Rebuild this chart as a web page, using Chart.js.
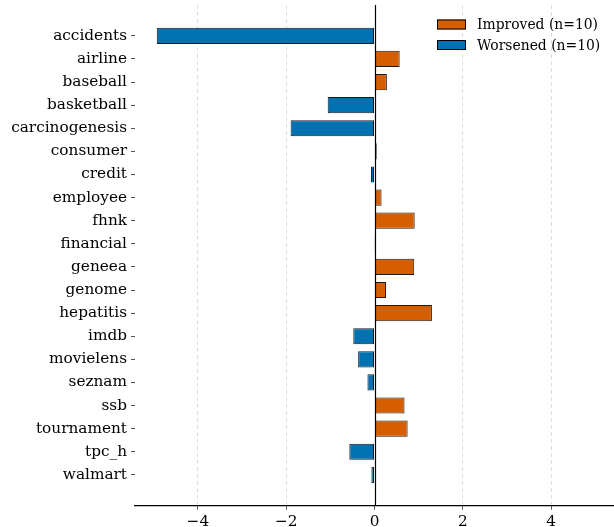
<!DOCTYPE html>
<html>
<head>
<meta charset="utf-8">
<script src="https://cdn.jsdelivr.net/npm/chart.js@4/dist/chart.umd.min.js"></script>
<style>
  html, body { margin: 0; padding: 0; background: #ffffff; }
  #wrap { width: 614px; height: 527px; position: relative; }
</style>
</head>
<body>
<div id="wrap"><canvas id="chart"></canvas></div>
<script>
// Dataset names, top to bottom
const categories = [
  'accidents', 'airline', 'baseball', 'basketball', 'carcinogenesis',
  'consumer', 'credit', 'employee', 'fhnk', 'financial',
  'geneea', 'genome', 'hepatitis', 'imdb', 'movielens',
  'seznam', 'ssb', 'tournament', 'tpc_h', 'walmart'
];

// Change per dataset (positive = improved, negative = worsened)
const changes = [
  -4.93, 0.57, 0.28, -1.06, -1.90,
  0.05, -0.08, 0.16, 0.91, -0.004,
  0.90, 0.26, 1.30, -0.48, -0.37,
  -0.16, 0.68, 0.75, -0.57, -0.07
];

const xTicks = [-4, -2, 0, 2, 4];

const seriesLabels = ['Improved (n=10)', 'Worsened (n=10)'];
const seriesColors = ['#D55E00', '#0072B2'];

const FONT = 'DejaVu Serif';
const TICK_SIZE = 15.3;
const LEGEND_SIZE = 13.9;

const N = categories.length;
// Row positions run bottom-up on the linear axis so the first name sits on top
const rowPos = (i) => N - 1 - i;

const improvedPoints = [];
const worsenedPoints = [];
changes.forEach((v, i) => {
  if (v > 0) improvedPoints.push({ x: v, y: rowPos(i) });
  else worsenedPoints.push({ x: v, y: rowPos(i) });
});

const limit = 1.1 * Math.max(...changes.map(Math.abs));

// Vertical reference line at zero, drawn over the bars
const zeroLine = {
  id: 'zeroLine',
  afterDatasetsDraw(chart) {
    const { ctx, chartArea, scales } = chart;
    const px = Math.round(scales.x.getPixelForValue(0)) + 0.5;
    ctx.save();
    ctx.strokeStyle = '#000000';
    ctx.lineWidth = 1.2;
    ctx.beginPath();
    ctx.moveTo(px, chartArea.top);
    ctx.lineTo(px, chartArea.bottom);
    ctx.stroke();
    ctx.restore();
  }
};

// Boxed legend in the upper right of the plot
const innerLegend = {
  id: 'innerLegend',
  afterDraw(chart) {
    const { ctx, chartArea } = chart;
    const boxW = 29, boxH = 10;
    const x0 = 437;
    let y = chartArea.top + 19.5;
    ctx.save();
    ctx.font = LEGEND_SIZE + 'px "' + FONT + '"';
    ctx.textBaseline = 'middle';
    ctx.textAlign = 'left';
    chart.data.datasets.forEach((ds) => {
      ctx.fillStyle = ds.backgroundColor;
      ctx.fillRect(x0, y - boxH / 2, boxW, boxH);
      ctx.strokeStyle = '#000000';
      ctx.lineWidth = 1;
      ctx.strokeRect(x0 + 0.5, y - boxH / 2 + 0.5, boxW - 1, boxH - 1);
      ctx.fillStyle = '#000000';
      ctx.fillText(ds.label, x0 + boxW + 11, y + 1);
      y += 20.5;
    });
    ctx.restore();
  }
};

new Chart(document.getElementById('chart'), {
  type: 'bar',
  data: {
    datasets: [
      {
        label: seriesLabels[0],
        data: improvedPoints,
        backgroundColor: seriesColors[0],
        borderColor: 'rgba(0,0,0,0.9)',
        borderWidth: 1,
        borderSkipped: false,
        grouped: false,
        barPercentage: 0.7,
        categoryPercentage: 1
      },
      {
        label: seriesLabels[1],
        data: worsenedPoints,
        backgroundColor: seriesColors[1],
        borderColor: 'rgba(0,0,0,0.9)',
        borderWidth: 1,
        borderSkipped: false,
        grouped: false,
        barPercentage: 0.7,
        categoryPercentage: 1
      }
    ]
  },
  options: {
    indexAxis: 'y',
    responsive: true,
    maintainAspectRatio: false,
    animation: false,
    layout: { padding: { top: 5, right: 0, left: 0, bottom: 0 } },
    plugins: {
      legend: { display: false },
      tooltip: { enabled: false }
    },
    scales: {
      x: {
        type: 'linear',
        position: 'bottom',
        min: -limit,
        max: limit,
        afterBuildTicks(scale) {
          scale.ticks = xTicks.map(v => ({ value: v }));
        },
        afterFit(scale) {
          scale.height = 21.3;
          scale.paddingLeft = 0;
          scale.paddingRight = 0;
        },
        ticks: {
          font: { family: FONT, size: TICK_SIZE },
          color: '#000000',
          padding: 3.5,
          callback: (v) => (v < 0 ? '\u2212' + Math.abs(v) : String(v))
        },
        grid: {
          color: (ctx) => (ctx.tick && ctx.tick.value === 0 ? 'rgba(0,0,0,0)' : '#dedede'),
          lineWidth: 1,
          tickLength: 4,
          tickColor: '#555555',
          tickWidth: 1
        },
        border: { display: true, color: '#000000', width: 1.2, dash: [4, 3] }
      },
      y: {
        type: 'linear',
        offset: false,
        min: -1.335,
        max: N - 1 + 1.335,
        afterBuildTicks(scale) {
          scale.ticks = categories.map((_, i) => ({ value: rowPos(i) }));
        },
        afterFit(scale) {
          scale.width = 135;
          scale.paddingTop = 0;
          scale.paddingBottom = 0;
        },
        ticks: {
          autoSkip: false,
          font: { family: FONT, size: TICK_SIZE },
          color: '#000000',
          padding: 4,
          callback: (v) => categories[N - 1 - v]
        },
        grid: {
          offset: false,
          drawOnChartArea: false,
          drawTicks: true,
          tickLength: 4,
          tickColor: '#555555',
          tickWidth: 1
        },
        border: { display: false }
      }
    }
  },
  plugins: [zeroLine, innerLegend]
});
</script>
</body>
</html>
